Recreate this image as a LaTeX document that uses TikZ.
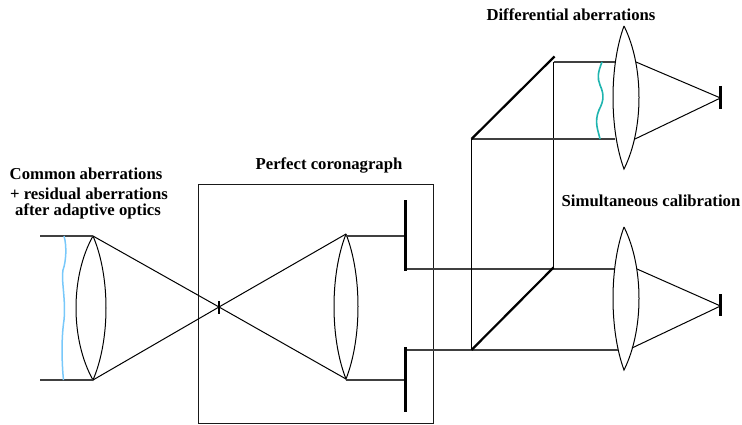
\documentclass[tikz,border=0pt]{standalone}
\usepackage{fontspec}
\setmainfont{Liberation Serif}
\definecolor{wavea}{RGB}{120,200,250}
\definecolor{waveb}{RGB}{30,180,175}
\tikzset{
  x=1pt,y=-1pt,
  beam/.style={line width=1.1pt,black!75},
  thin box/.style={line width=0.9pt,black!90},
  stopbar/.style={line width=2.6pt,black},
  mirror/.style={line width=2.2pt,black},
  lensline/.style={line width=1pt,black},
  lab/.style={font=\fontsize{16.7}{18}\selectfont\bfseries,inner sep=0pt,anchor=center},
}
\newcommand{\lens}[6]{% x, top, bottom, left, right, name
  \coordinate (#6t) at (#1,#2);
  \coordinate (#6b) at (#1,#3);
  \pgfmathsetmacro{\ctlL}{#4-(#1-#4)/3}
  \pgfmathsetmacro{\ctlR}{#5+(#5-#1)/3}
  \pgfmathsetmacro{\ya}{#2+(#3-#2)*0.28}
  \pgfmathsetmacro{\yb}{#3-(#3-#2)*0.28}
  \draw[lensline] (#6t) .. controls (\ctlL,\ya) and (\ctlL,\yb) .. (#6b)
                        .. controls (\ctlR,\yb) and (\ctlR,\ya) .. (#6t);
}
\begin{document}
\begin{tikzpicture}
\useasboundingbox (0,0) rectangle (742,425);
% coronagraph box
\coordinate (bxa) at (198.5,184.5);
\coordinate (bxb) at (433,423.2);
\draw[thin box] (bxa) rectangle (bxb);
% lenses
\lens{93}{236}{380}{76}{106}{la}
\lens{346}{234}{379}{334}{358}{lb}
\lens{624}{26}{169}{613}{639}{lc}
\lens{624}{227}{370}{613}{639}{ld}
% named points
\coordinate (ia) at (40,236);
\coordinate (ib) at (40,380);
\coordinate (f) at (219,307);
\coordinate (sa) at (405.5,236);
\coordinate (sb) at (405.5,380);
\coordinate (sat) at (405.5,200);
\coordinate (sab) at (405.5,271);
\coordinate (sbt) at (405.5,347);
\coordinate (sbb) at (405.5,412);
\coordinate (sc) at (405.5,269);
\coordinate (sd) at (405.5,350);
\coordinate (ma) at (471.5,350);
\coordinate (mb) at (553.5,267.5);
\coordinate (mc) at (471.5,139);
\coordinate (md) at (554.5,56.5);
\coordinate (me) at (553.5,62);
\coordinate (mf) at (553.5,269);
\coordinate (ua) at (615,62);
\coordinate (ub) at (615,139);
\coordinate (uc) at (614,269);
\coordinate (ud) at (618,350);
\coordinate (va) at (636,62);
\coordinate (vb) at (635,139);
\coordinate (vc) at (637,269);
\coordinate (vd) at (632,348);
\coordinate (fa) at (720.5,98);
\coordinate (fb) at (720.5,306);
% beams
\draw[beam] (ia) -- (lat);
\draw[beam] (ib) -- (lab);
\draw[lensline] (lat) -- (f) -- (lbb);
\draw[lensline] (lab) -- (f) -- (lbt);
\draw[beam] (lbt) ++(0,2) -- (sa);
\draw[beam] (lbb) ++(0,1) -- (sb);
\draw[beam] (sc) -- (mf) -- (uc);
\draw[beam] (sd) -- (ma) -- (ud);
\draw[lensline] (ma) -- (mc);
\draw[lensline] (mf) -- (me);
\draw[beam] (mc) -- (ub);
\draw[beam] (me) -- (ua);
\draw[lensline] (va) -- (fa) -- (vb);
\draw[lensline] (vc) -- (fb) -- (vd);
% stops
\draw[stopbar] (sat) -- (sab);
\draw[stopbar] (sbt) -- (sbb);
\draw[line width=1.6pt] (219,301) -- (219,314);
\draw[stopbar] (720.5,86) -- (720.5,109);
\draw[stopbar] (720.5,294) -- (720.5,316);
% mirrors
\draw[mirror] (ma) -- (mb);
\draw[mirror] (mc) -- (md);
% wavefronts
\draw[wavea,line width=1.5pt] (64,236) .. controls (67,246) and (66,262) .. (63,270)
  .. controls (61,280) and (66,300) .. (64,320) .. controls (61,340) and (62,365) .. (63.5,380);
\draw[waveb,line width=1.6pt] (602,62) .. controls (598,72) and (597,78) .. (600,85)
  .. controls (605,96) and (603,102) .. (599,110) .. controls (594,122) and (598,130) .. (600,139);
% labels
\node[lab] (t1) at (571,15) {Differential aberrations};
\node[lab] (t2) at (329,165) {Perfect coronagraph};
\node[lab] (t3) at (651,200.5) {Simultaneous calibration};
\node[lab] (t4) at (86,174) {Common aberrations};
\node[lab] (t5) at (89,193.5) {+ residual aberrations};
\node[lab] (t6) at (88,211) {after adaptive optics};
\end{tikzpicture}
\end{document}
